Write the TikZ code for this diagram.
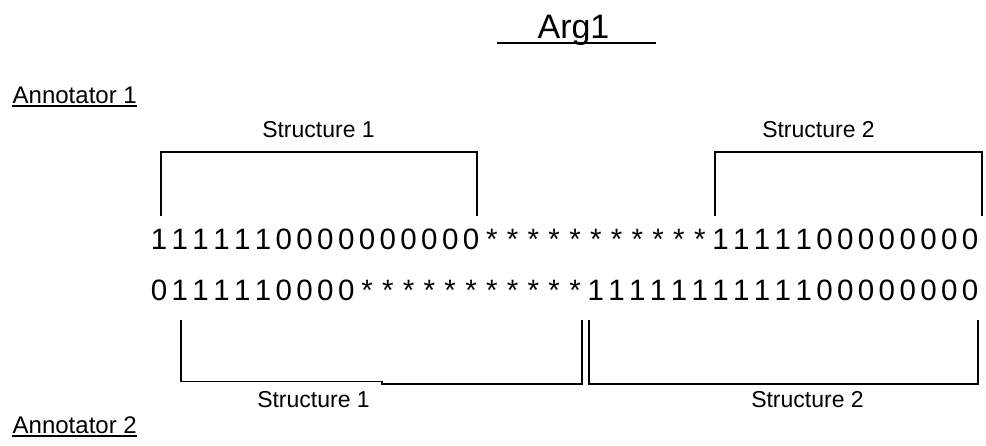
\documentclass[tikz,border=0pt]{standalone}
\usepackage{fontspec}
\setmainfont{Liberation Sans}
\usepackage{tikz}
\usetikzlibrary{positioning,calc}

% one fixed-width cell per character of a sequence
\newcommand\bitrow[1]{\bitnext#1\relax}
\def\bitnext#1{\ifx\relax#1\else\makebox[20.8pt]{#1}\expandafter\bitnext\fi}

\begin{document}
\begin{tikzpicture}[x=1pt, y=-1pt, line width=1.4pt,
    title/.style={inner sep=0pt, font=\fontsize{34}{38}\selectfont},
    annot/.style={inner sep=0pt, anchor=base west, font=\fontsize{24}{28}\selectfont},
    struct/.style={inner sep=0pt, anchor=base, font=\fontsize{23}{26}\selectfont},
    bits/.style={inner sep=0pt, anchor=base west, font=\fontsize{29.5}{32}\selectfont}]
    \useasboundingbox (0,0) rectangle (986,445);

    % Title
    \node[title, anchor=base] (arg) at (573.5,38) {Arg1};
    \draw (497,43) -- (656,43);

    % Annotator 1 with its two structures
    \node[annot] (ann1) at (12,103) {Annotator 1};
    \draw ([yshift=-3pt]ann1.base west) -- ([yshift=-3pt]ann1.base east);
    \node[struct] (s1top) at (318.5,137) {Structure 1};
    \node[struct] (s2top) at (818.5,137) {Structure 2};
    \draw (161,216) -- (161,152) -- (477,152) -- (477,216);
    \draw (715,216) -- (715,152) -- (982,152) -- (982,216);

    % The two label sequences
    \node[bits] (row1) at (148,249) {\bitrow{1111110000000000***********1111100000000}};
    \node[bits] (row2) at (148,300) {\bitrow{0111110000***********1111111111100000000}};

    % Annotator 2 with its two structures
    \draw (181,320) -- (181,381.5) -- (382,381.5) -- (382,384) -- (582,384) -- (582,320);
    \draw (589,320) -- (589,384) -- (978,384) -- (978,320);
    \node[struct] (s1bot) at (313.5,407) {Structure 1};
    \node[struct] (s2bot) at (807.5,407) {Structure 2};
    \node[annot] (ann2) at (12,433) {Annotator 2};
    \draw ([yshift=-3pt]ann2.base west) -- ([yshift=-3pt]ann2.base east);
\end{tikzpicture}
\end{document}
